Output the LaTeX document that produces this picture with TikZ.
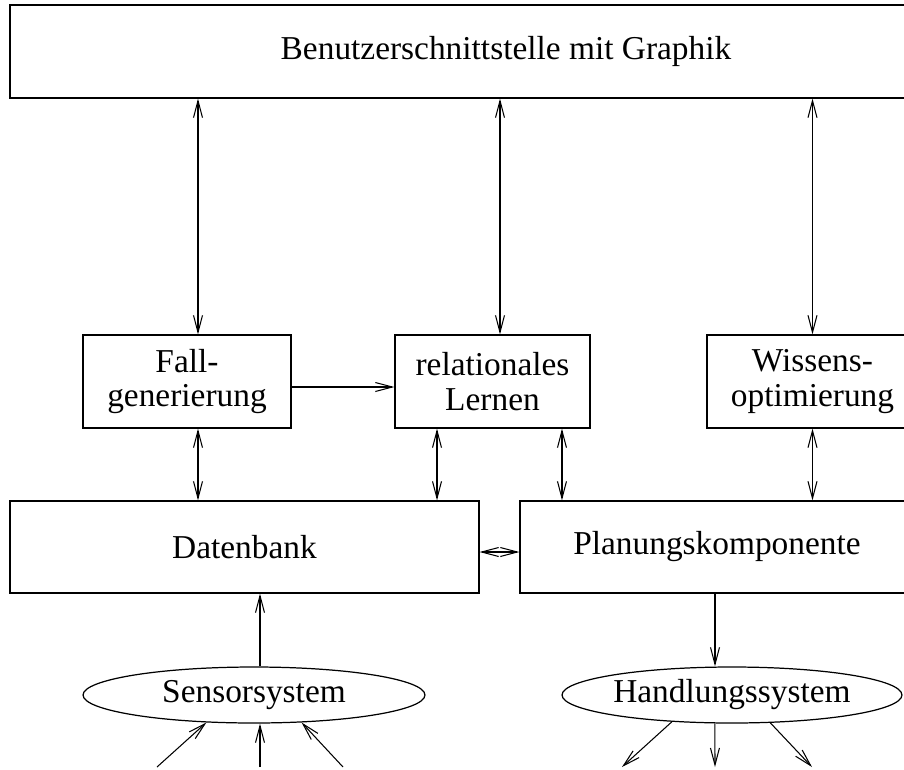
\documentclass[tikz,border=0pt]{standalone}
\usepackage{fontspec}
\setmainfont{Liberation Serif}
\usetikzlibrary{arrows.meta,shapes.geometric}
\tikzset{
	block/.style={draw, line width=0.7pt, minimum height=1.86cm, align=center, inner sep=0pt, font=\fontsize{19}{19.5}\selectfont},
	sys/.style={draw, ellipse, line width=0.7pt, minimum height=1.12cm, inner sep=0pt, font=\fontsize{19}{19.5}\selectfont}
}
\begin{document}
\begin{tikzpicture}[x=0.02cm, y=-0.02cm, line width=0.6pt, >={Straight Barb[length=3.4mm,width=1.8mm]}]
		\useasboundingbox (0,0) rectangle (904,769);
		\clip (0,0) rectangle (904,769);
		\node[block, minimum width=19.84cm] (gui) at (506,51.5) {Benutzerschnittstelle mit Graphik};
		\node[block, minimum width=4.16cm] (fall) at (187,381.5) {Fall-\\generierung};
		\node[block, minimum width=3.9cm] (rel) at (492.5,381.5) {relationales\\Lernen};
		\node[block, minimum width=4.22cm] (wiss) at (812.5,381.5) {Wissens-\\optimierung};
		\node[block, minimum width=9.38cm, minimum height=1.84cm] (db) at (244.5,547) {Datenbank};
		\node[block, minimum width=7.88cm, minimum height=1.84cm] (plan) at (717,547) {Planungskomponente};
		\node[sys, minimum width=6.84cm] (sensor) at (254,695) {Sensorsystem};
		\node[sys, minimum width=6.8cm] (hand) at (732,695) {Handlungssystem};
		\draw[<->] ([xshift=0.22cm]fall.north) -- ([xshift=0.22cm]fall.north |- gui.south);
		\draw[<->] ([xshift=0.15cm]rel.north) -- ([xshift=0.15cm]rel.north |- gui.south);
		\draw[<->] (wiss.north) -- (wiss.north |- gui.south);
		\draw[->] ([yshift=-0.11cm]fall.east) -- ([yshift=-0.11cm]fall.east -| rel.west);
		\draw[<->] ([xshift=0.22cm]fall.south) -- ([xshift=0.22cm]fall.south |- db.north);
		\draw[<->] ([xshift=-1.11cm]rel.south) -- ([xshift=-1.11cm]rel.south |- db.north);
		\draw[<->] ([xshift=1.39cm]rel.south) -- ([xshift=1.39cm]rel.south |- plan.north);
		\draw[<->] (wiss.south) -- (wiss.south |- plan.north);
		\draw[<->] ([yshift=-0.1cm]db.east) -- ([yshift=-0.1cm]db.east -| plan.west);
		\draw[->] ([xshift=0.12cm]sensor.north) -- ([xshift=0.12cm]sensor.north |- db.south);
		\draw[->] ([xshift=-0.34cm]hand.north |- plan.south) -- ([xshift=-0.34cm]hand.north);
		\coordinate (s1) at (157,767);
		\coordinate (s2) at (260,767);
		\coordinate (s3) at (343,767);
		\draw[->] (s1) -- (sensor.210);
		\draw[->] (s2) -- (s2 |- sensor.south);
		\draw[->] (s3) -- (sensor.330);
		\coordinate (h1) at (622,767);
		\coordinate (h2) at (715,767);
		\coordinate (h3) at (812,767);
		\draw[->] (hand.204) -- (h1);
		\draw[->] (hand.239) -- (h2);
		\draw[->] (hand.324) -- (h3);
	\end{tikzpicture}
\end{document}
